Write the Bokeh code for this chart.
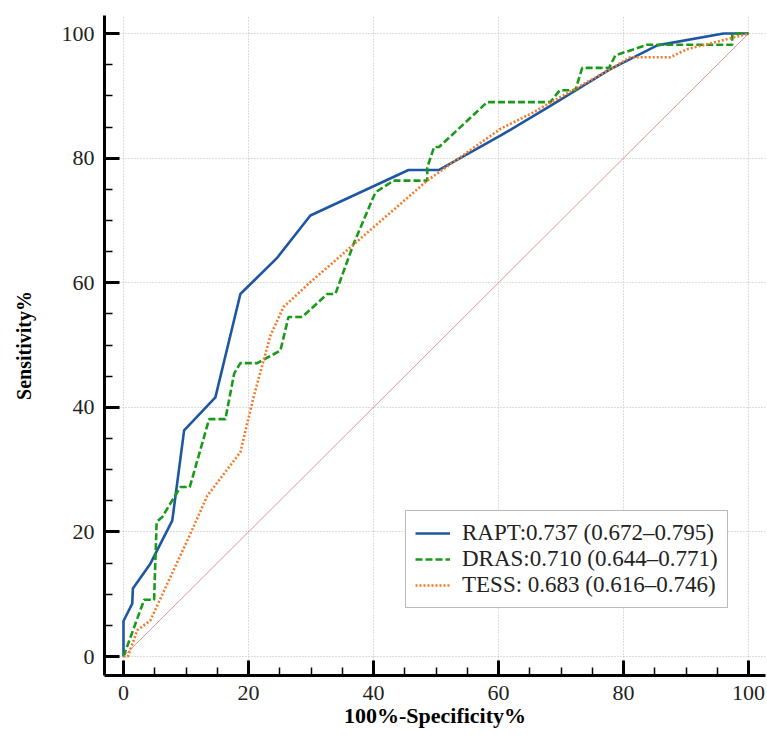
from bokeh.plotting import figure
from bokeh.embed import file_html
from bokeh.resources import INLINE
from bokeh.models import Range1d, FixedTicker

# ROC data (100%-Specificity %, Sensitivity %)
rapt_x = [0, 0, 1.4, 1.5, 4.3, 7.8, 9.7, 14.7, 18.7, 24.5, 29.9, 45.6, 50.5, 60.3, 68.3, 77.9, 85.4, 96, 100]
rapt_y = [0, 5.7, 8.5, 10.9, 14.9, 21.8, 36.3, 41.6, 58.2, 63.9, 70.8, 78.1, 78.1, 83.6, 88.4, 94.3, 98.1, 100, 100]

dras_x = [0, 3.3, 4.9, 5.3, 6.2, 9.1, 10.6, 13.7, 16.3, 17.7, 18.7, 21.4, 25.1, 26.4, 28.6, 32.6, 33.9, 36.8,
          40.3, 43.2, 48.6, 48.6, 49.7, 50.5, 58.2, 68.3, 69.8, 72.3, 73.4, 77.7, 78.7, 83.8, 97.4, 97.4, 100]
dras_y = [0, 9.1, 9.1, 21.6, 22.4, 27.2, 27.2, 38.1, 38.1, 45.4, 47.1, 47.1, 49.1, 54.5, 54.5, 58.2, 58.2, 66.2,
          74.5, 76.4, 76.4, 78.5, 81.8, 81.8, 89.0, 89.0, 90.9, 90.9, 94.5, 94.5, 96.5, 98.2, 98.2, 100, 100]

tess_x = [0, 0.7, 2.2, 4.3, 10.7, 13.4, 18.7, 20.8, 23.5, 25.6, 29.9, 48.6, 60.3, 65.1, 77.9, 81.1, 87.5, 90.2, 97.4, 100]
tess_y = [0, 0, 4.2, 5.8, 19.7, 25.8, 32.8, 41.6, 51.5, 56.1, 60.1, 76.4, 84.7, 87.1, 94.3, 96.2, 96.2, 97.5, 99.3, 100]

diag_x = [0, 100]
diag_y = [0, 100]

labels = ["RAPT:0.737 (0.672\u20130.795)",
          "DRAS:0.710 (0.644\u20130.771)",
          "TESS: 0.683 (0.616\u20130.746)"]
ticks = [0, 20, 40, 60, 80, 100]

FONT = "Liberation Serif"

p = figure(width=766, height=741, output_backend="svg", toolbar_location=None,
           x_range=Range1d(-3.04, 102.72), y_range=Range1d(-3.05, 102.9),
           min_border_left=104, min_border_right=1, min_border_top=15, min_border_bottom=66)
p.outline_line_color = None
p.background_fill_color = "white"

p.line(diag_x, diag_y, line_color="#d07c7c", line_width=0.8)
p.line(rapt_x, rapt_y, line_color="#1f56a0", line_width=2.6, legend_label=labels[0])
p.line(dras_x, dras_y, line_color="#1a9a1a", line_width=2.6, line_dash="7 3", legend_label=labels[1])
p.line(tess_x, tess_y, line_color="#f47a2a", line_width=2.6, line_dash="2 2", legend_label=labels[2])

for ax in (p.xaxis[0], p.yaxis[0]):
    ax.ticker = FixedTicker(ticks=ticks, minor_ticks=list(range(0, 101, 5)))
    ax.axis_line_width = 3
    ax.axis_line_color = "black"
    ax.major_tick_in = 15
    ax.major_tick_out = 0
    ax.major_tick_line_width = 3
    ax.minor_tick_in = 8
    ax.minor_tick_out = 0
    ax.minor_tick_line_width = 1.5
    ax.major_label_text_font = FONT
    ax.major_label_text_font_size = "22px"
    ax.major_label_text_color = "#222222"
    ax.axis_label_text_font = FONT
    ax.axis_label_text_font_style = "bold"
    ax.axis_label_text_color = "black"

p.xaxis.axis_label = "100%-Specificity%"
p.yaxis.axis_label = "Sensitivity%"
p.xaxis.axis_label_text_font_size = "22px"
p.yaxis.axis_label_text_font_size = "20px"
p.xaxis.major_label_standoff = 10
p.yaxis.major_label_standoff = 10
p.xaxis.axis_label_standoff = 0
p.yaxis.axis_label_standoff = 24

p.xgrid.ticker = FixedTicker(ticks=ticks)
p.ygrid.ticker = FixedTicker(ticks=ticks)
p.grid.grid_line_color = "#bbbbbb"
p.grid.grid_line_dash = "1 2"
p.grid.grid_line_width = 1

lg = p.legend[0]
lg.location = (301, 67)
lg.label_text_font = FONT
lg.label_text_font_size = "23px"
lg.label_text_color = "#222222"
lg.glyph_width = 35
lg.glyph_height = 20
lg.label_height = 22
lg.label_standoff = 12
lg.spacing = -2
lg.padding = 9
lg.margin = 0
lg.border_line_color = "#777777"
lg.border_line_width = 1.5
lg.background_fill_alpha = 1

open("out.html", "w").write(file_html(p, INLINE))
